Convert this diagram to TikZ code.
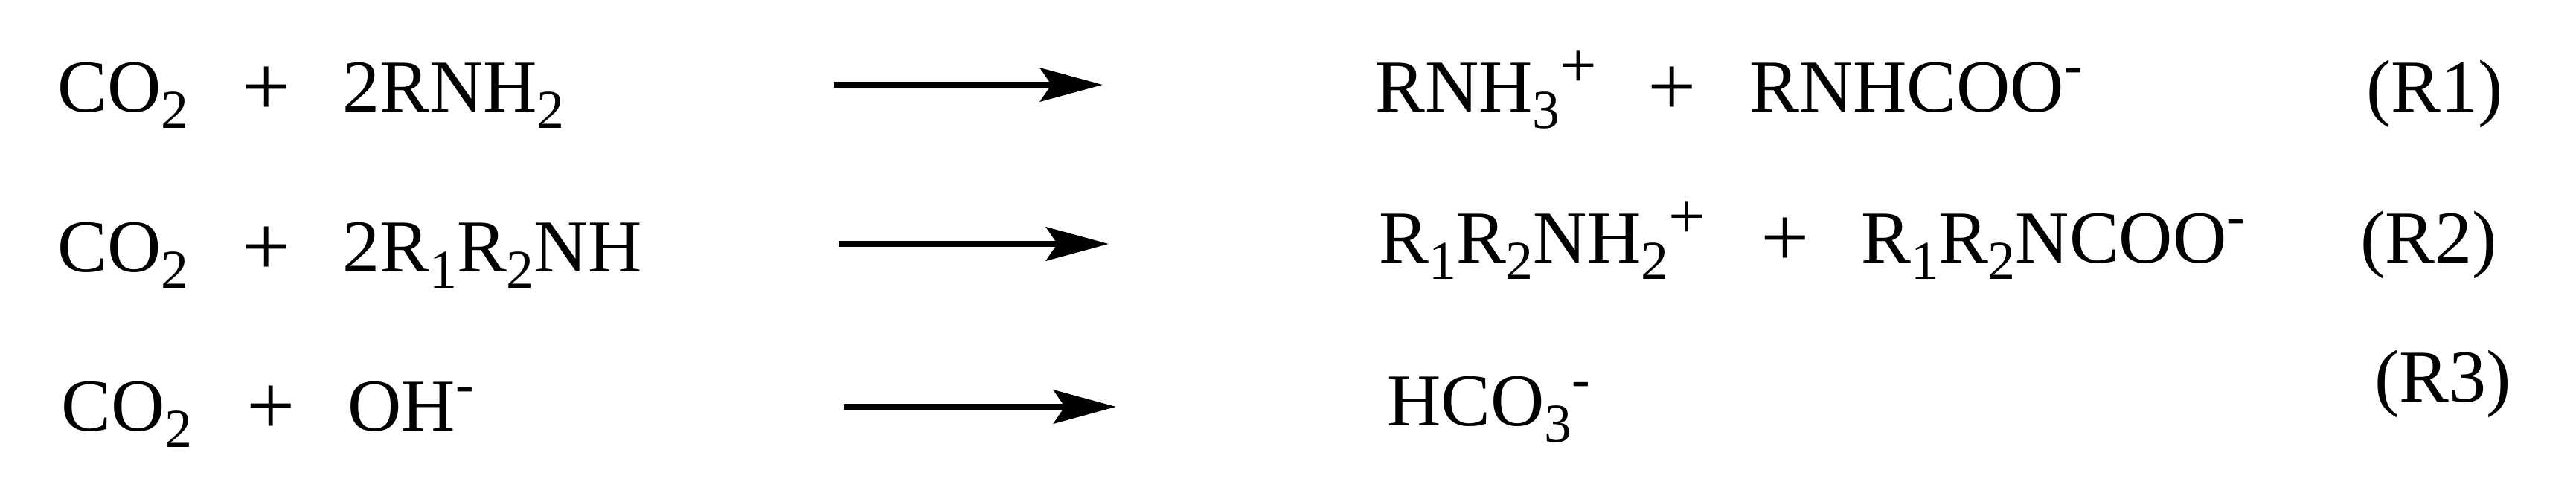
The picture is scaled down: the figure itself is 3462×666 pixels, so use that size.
\documentclass[tikz,border=0pt]{standalone}
\usepackage{fontspec}
\setmainfont{Liberation Serif}
\usetikzlibrary{arrows.meta}
\newcommand{\LowText}[1]{\raisebox{-4.5mm}{\fontsize{42}{44}\selectfont #1}}
\newcommand{\HighText}[1]{\raisebox{7.6mm}{\fontsize{42}{44}\selectfont #1}}
\newcommand{\HighPlus}{\raisebox{6.6mm}{\fontsize{50}{52}\selectfont +}}
\tikzset{
	species/.style={inner sep=0pt, anchor=base west, font=\fontsize{57}{60}\selectfont},
	plussign/.style={inner sep=0pt, anchor=base, yshift=-1mm, font=\fontsize{66}{68}\selectfont},
	reactionarrow/.style={line width=1.7mm, -{Stealth[length=16.8mm, width=9mm, inset=3mm]}}
}
\begin{document}
\begin{tikzpicture}[x=0.2mm, y=-0.2mm]
			\def\RowOne{150}
			\def\RowTwo{365}
			\def\RowThree{579}
			\useasboundingbox (0,0) rectangle (3462,666);
			\node[species] (CarbonOne) at (77,\RowOne) {CO\LowText{2}};
			\node[plussign] (PlusOne) at (358,\RowOne) {+};
			\node[species] (AmineOne) at (460,\RowOne) {2RNH\LowText{2}};
			\coordinate (ArrowOneStart) at (1121,114);
			\coordinate (ArrowOneEnd) at (1482,114);
			\draw[reactionarrow] (ArrowOneStart) -- (ArrowOneEnd);
			\node[species] (CationOne) at (1848,\RowOne) {RNH\LowText{3}\HighPlus};
			\node[plussign] (PlusProductOne) at (2247,\RowOne) {+};
			\node[species] (AnionOne) at (2351,\RowOne) {RNHCOO\HighText{-}};
			\node[species] (LabelOne) at (3180,150) {(R1)};
			\node[species] (CarbonTwo) at (77,\RowTwo) {CO\LowText{2}};
			\node[plussign] (PlusTwo) at (358,\RowTwo) {+};
			\node[species] (AmineTwo) at (460,\RowTwo) {2R\LowText{1}R\LowText{2}NH};
			\coordinate (ArrowTwoStart) at (1127,328);
			\coordinate (ArrowTwoEnd) at (1490,328);
			\draw[reactionarrow] (ArrowTwoStart) -- (ArrowTwoEnd);
			\node[species] (CationTwo) at (1853,353) {R\LowText{1}R\LowText{2}NH\LowText{2}\HighPlus};
			\node[plussign] (PlusProductTwo) at (2399,353) {+};
			\node[species] (AnionTwo) at (2501,353) {R\LowText{1}R\LowText{2}NCOO\HighText{-}};
			\node[species] (LabelTwo) at (3172,353) {(R2)};
			\node[species] (CarbonThree) at (82,\RowThree) {CO\LowText{2}};
			\node[plussign] (PlusThree) at (364,\RowThree) {+};
			\node[species] (HydroxideThree) at (467,\RowThree) {OH\HighText{-}};
			\coordinate (ArrowThreeStart) at (1134,547);
			\coordinate (ArrowThreeEnd) at (1500,547);
			\draw[reactionarrow] (ArrowThreeStart) -- (ArrowThreeEnd);
			\node[species] (BicarbonateThree) at (1864,572) {HCO\LowText{3}\HighText{-}};
			\node[species] (LabelThree) at (3191,540) {(R3)};
		\end{tikzpicture}
\end{document}
